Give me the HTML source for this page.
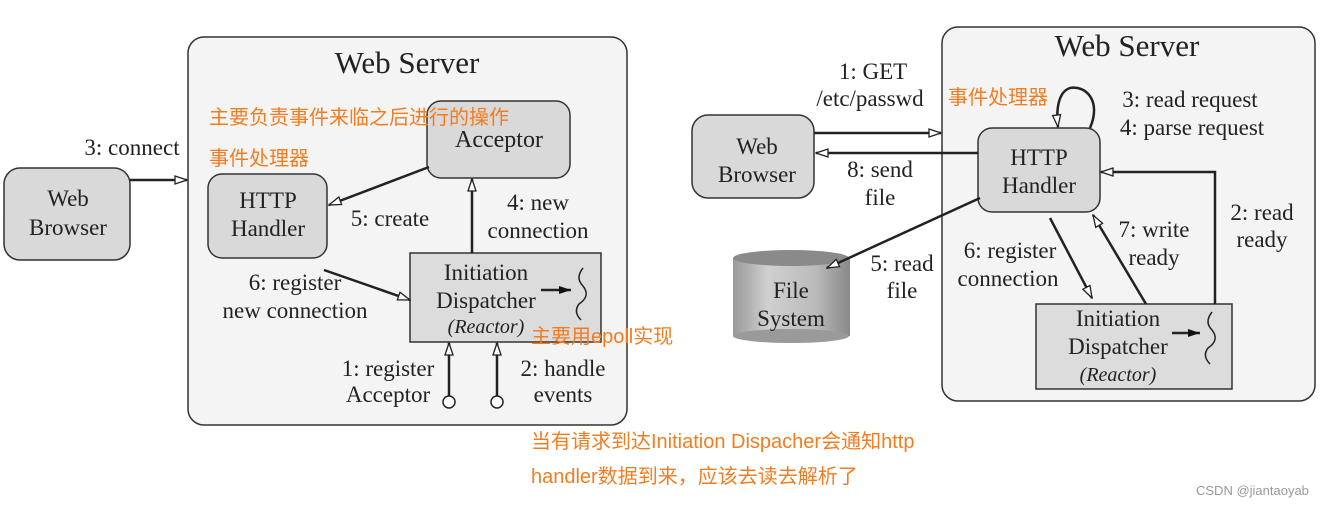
<!DOCTYPE html>
<html><head><meta charset="utf-8"><style>
html,body{margin:0;padding:0;background:#fff;width:1343px;height:507px;overflow:hidden}
svg{display:block}
.s{font-family:"Liberation Serif",serif;fill:#222}
.o{font-family:"Liberation Sans","Noto Sans CJK SC",sans-serif;fill:#f47c20;font-size:20px}
</style></head><body>
<svg width="1343" height="507" viewBox="0 0 1343 507" xmlns="http://www.w3.org/2000/svg">
<defs>
<marker id="a" viewBox="0 0 14 10" refX="13" refY="5" markerWidth="14" markerHeight="10" markerUnits="userSpaceOnUse" orient="auto">
<path d="M1,1 L13,5 L1,9 Z" fill="#fff" stroke="#222" stroke-width="1.3"/></marker>
<marker id="b" viewBox="0 0 14 10" refX="13" refY="5" markerWidth="14" markerHeight="10" markerUnits="userSpaceOnUse" orient="auto">
<path d="M1,1 L13,5 L1,9 Z" fill="#111"/></marker>
<linearGradient id="cyl" x1="0" x2="1">
<stop offset="0" stop-color="#999"/><stop offset="0.3" stop-color="#d0d0d0"/><stop offset="0.7" stop-color="#bbb"/><stop offset="1" stop-color="#888"/></linearGradient>
</defs>
<g stroke="#333" stroke-width="1.5">
<rect x="188" y="37" width="439" height="388" rx="16" fill="#f4f4f4"/>
<rect x="4" y="168" width="126" height="92" rx="16" fill="#d9d9d9"/>
<rect x="427" y="101" width="143" height="77" rx="14" fill="#d9d9d9"/>
<rect x="208" y="174" width="119" height="84" rx="14" fill="#d9d9d9"/>
<rect x="410" y="253" width="191" height="89" fill="#dcdcdc"/>
</g>
<g stroke="#222" stroke-width="2.5" fill="none">
<line x1="130" y1="180" x2="187" y2="180" marker-end="url(#a)"/>
<line x1="429" y1="167" x2="329" y2="205" marker-end="url(#a)"/>
<line x1="472" y1="253" x2="472" y2="179" marker-end="url(#a)"/>
<line x1="324" y1="270" x2="410" y2="300" marker-end="url(#a)"/>
<line x1="449" y1="397" x2="449" y2="343" marker-end="url(#a)"/>
<line x1="497" y1="397" x2="497" y2="343" marker-end="url(#a)"/>
<line x1="541" y1="290" x2="571" y2="290" marker-end="url(#b)"/>
<path d="M583,268 q-8,10 0,18 q8,10 -4,18 q-6,8 2,16" stroke-width="1.5"/>
</g>
<circle cx="449" cy="402" r="6" fill="#fff" stroke="#222" stroke-width="1.5"/>
<circle cx="497" cy="402" r="6" fill="#fff" stroke="#222" stroke-width="1.5"/>
<g class="s" font-size="23">
<text x="407" y="73" font-size="31" text-anchor="middle">Web Server</text>
<text x="132" y="155" text-anchor="middle">3: connect</text>
<text x="68" y="206" text-anchor="middle">Web</text><text x="68" y="235" text-anchor="middle">Browser</text>
<text x="499" y="147" text-anchor="middle" font-size="24">Acceptor</text>
<text x="268" y="208" text-anchor="middle">HTTP</text><text x="268" y="236" text-anchor="middle">Handler</text>
<text x="390" y="226" text-anchor="middle">5: create</text>
<text x="538" y="210" text-anchor="middle">4: new</text><text x="538" y="238" text-anchor="middle">connection</text>
<text x="295" y="290" text-anchor="middle">6: register</text><text x="295" y="318" text-anchor="middle">new connection</text>
<text x="486" y="280" text-anchor="middle">Initiation</text><text x="486" y="308" text-anchor="middle">Dispatcher</text>
<text x="486" y="333" text-anchor="middle" font-style="italic" font-size="20">(Reactor)</text>
<text x="388" y="376" text-anchor="middle">1: register</text><text x="388" y="402" text-anchor="middle">Acceptor</text>
<text x="563" y="376" text-anchor="middle">2: handle</text><text x="563" y="402" text-anchor="middle">events</text>
</g>
<g stroke="#333" stroke-width="1.5">
<rect x="942" y="27" width="373" height="374" rx="16" fill="#f4f4f4"/>
<rect x="692" y="115" width="122" height="83" rx="16" fill="#d9d9d9"/>
<rect x="978" y="128" width="122" height="84" rx="14" fill="#d9d9d9"/>
<rect x="1036" y="304" width="196" height="85" fill="#dcdcdc"/>
</g>
<rect x="733" y="258" width="117" height="78" fill="url(#cyl)"/>
<ellipse cx="791" cy="336" rx="58" ry="7" fill="#9a9a9a"/>
<ellipse cx="791" cy="258" rx="58" ry="8" fill="#8a8a8a"/>
<g stroke="#222" stroke-width="2.5" fill="none">
<line x1="814" y1="133" x2="941" y2="133" marker-end="url(#a)"/>
<line x1="978" y1="153" x2="816" y2="153" marker-end="url(#a)"/>
<line x1="980" y1="198" x2="827" y2="268" marker-end="url(#a)"/>
<path d="M1090,128 C1102,100 1085,85 1070,88 C1058,92 1056,110 1058,127" marker-end="url(#a)"/>
<polyline points="1215,304 1215,172 1101,172" marker-end="url(#a)"/>
<line x1="1050" y1="218" x2="1092" y2="298" marker-end="url(#a)"/>
<line x1="1146" y1="304" x2="1093" y2="215" marker-end="url(#a)"/>
<line x1="1172" y1="333" x2="1200" y2="333" marker-end="url(#b)"/>
<path d="M1212,312 q-8,10 0,18 q8,10 -4,18 q-6,8 2,16" stroke-width="1.5"/>
</g>
<g class="s" font-size="23">
<text x="1127" y="56" font-size="31" text-anchor="middle">Web Server</text>
<text x="873" y="79" text-anchor="middle">1: GET</text><text x="870" y="106" text-anchor="middle">/etc/passwd</text>
<text x="757" y="154" text-anchor="middle">Web</text><text x="757" y="182" text-anchor="middle">Browser</text>
<text x="880" y="177" text-anchor="middle">8: send</text><text x="880" y="205" text-anchor="middle">file</text>
<text x="1039" y="165" text-anchor="middle">HTTP</text><text x="1039" y="193" text-anchor="middle">Handler</text>
<text x="1190" y="107" text-anchor="middle">3: read request</text><text x="1192" y="135" text-anchor="middle">4: parse request</text>
<text x="1262" y="220" text-anchor="middle">2: read</text><text x="1262" y="247" text-anchor="middle">ready</text>
<text x="1154" y="237" text-anchor="middle">7: write</text><text x="1154" y="265" text-anchor="middle">ready</text>
<text x="1010" y="258" text-anchor="middle">6: register</text><text x="1008" y="286" text-anchor="middle">connection</text>
<text x="902" y="271" text-anchor="middle">5: read</text><text x="902" y="298" text-anchor="middle">file</text>
<text x="791" y="298" text-anchor="middle">File</text><text x="791" y="326" text-anchor="middle">System</text>
<text x="1118" y="326" text-anchor="middle">Initiation</text><text x="1118" y="354" text-anchor="middle">Dispatcher</text>
<text x="1118" y="381" text-anchor="middle" font-style="italic" font-size="20">(Reactor)</text>
</g>
<text class="o" x="209" y="124">主要负责事件来临之后进行的操作</text>
<text class="o" x="209" y="165">事件处理器</text>
<text class="o" x="531" y="343">主要用epoll实现</text>
<text class="o" x="948" y="104">事件处理器</text>
<text class="o" x="531" y="448">当有请求到达Initiation Dispacher会通知http</text>
<text class="o" x="531" y="483">handler数据到来，应该去读去解析了</text>
<text x="1196" y="495" font-family="Liberation Sans,sans-serif" font-size="13" fill="#999">CSDN @jiantaoyab</text>
</svg>
</body></html>
